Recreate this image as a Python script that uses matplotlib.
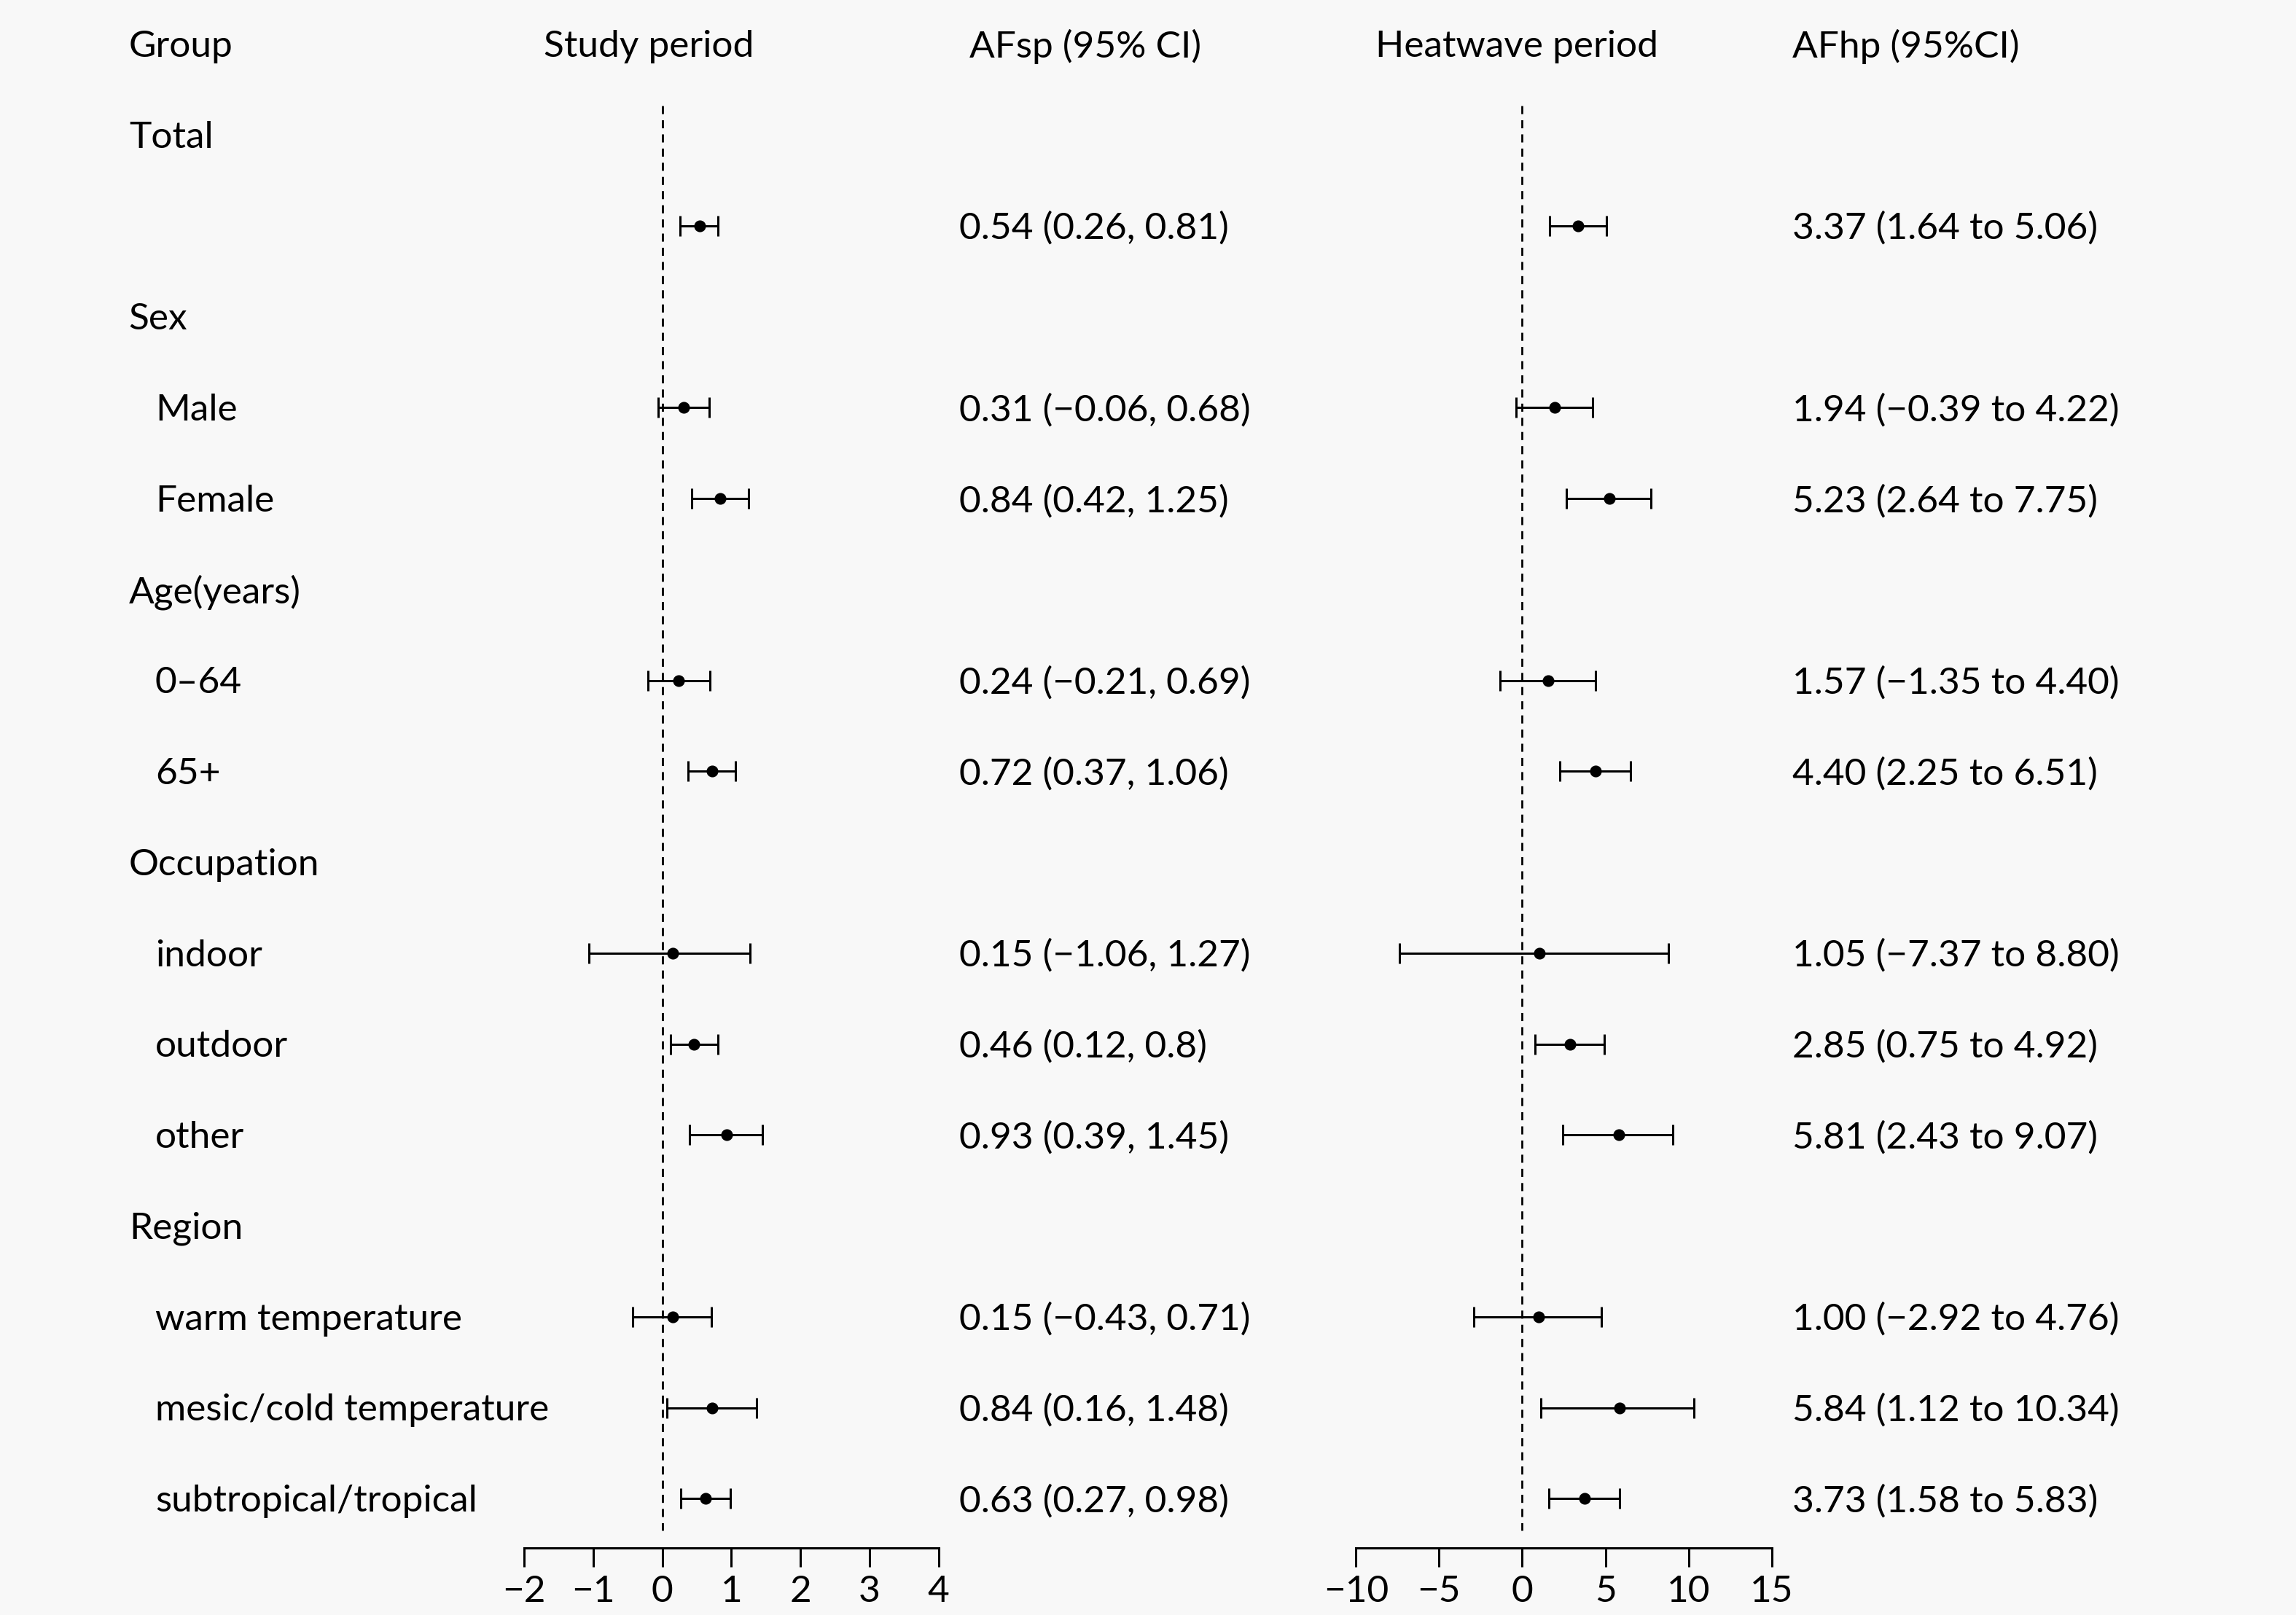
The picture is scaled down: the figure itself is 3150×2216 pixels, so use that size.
"""
Forest plot of attributable fractions
Study period (AFsp) and heatwave period (AFhp) by subgroup
"""

import matplotlib.pyplot as plt
import matplotlib.transforms as mtransforms

# Row layout: 0 = header row, then one row per line of the table
group_rows = [1, 3, 6, 9, 13]
group_names = ["Total", "Sex", "Age(years)", "Occupation", "Region"]

item_rows = [2, 4, 5, 7, 8, 10, 11, 12, 14, 15, 16]
item_names = ["", "Male", "Female", "0\u201364", "65+", "indoor", "outdoor", "other",
              "warm temperature", "mesic/cold temperature", "subtropical/tropical"]

# Study period estimates (as drawn in the plot)
sp_est = [0.54, 0.31, 0.84, 0.24, 0.72, 0.15, 0.46, 0.93, 0.15, 0.72, 0.63]
sp_low = [0.26, -0.06, 0.42, -0.21, 0.37, -1.06, 0.12, 0.39, -0.43, 0.07, 0.27]
sp_high = [0.81, 0.68, 1.25, 0.69, 1.06, 1.27, 0.8, 1.45, 0.71, 1.36, 0.98]
sp_text = ["0.54 (0.26, 0.81)", "0.31 (\u22120.06, 0.68)", "0.84 (0.42, 1.25)",
           "0.24 (\u22120.21, 0.69)", "0.72 (0.37, 1.06)", "0.15 (\u22121.06, 1.27)",
           "0.46 (0.12, 0.8)", "0.93 (0.39, 1.45)", "0.15 (\u22120.43, 0.71)",
           "0.84 (0.16, 1.48)", "0.63 (0.27, 0.98)"]

# Heatwave period estimates
hp_est = [3.37, 1.94, 5.23, 1.57, 4.40, 1.05, 2.85, 5.81, 1.00, 5.84, 3.73]
hp_low = [1.64, -0.39, 2.64, -1.35, 2.25, -7.37, 0.75, 2.43, -2.92, 1.12, 1.58]
hp_high = [5.06, 4.22, 7.75, 4.40, 6.51, 8.80, 4.92, 9.07, 4.76, 10.34, 5.83]
hp_text = ["3.37 (1.64 to 5.06)", "1.94 (\u22120.39 to 4.22)", "5.23 (2.64 to 7.75)",
           "1.57 (\u22121.35 to 4.40)", "4.40 (2.25 to 6.51)", "1.05 (\u22127.37 to 8.80)",
           "2.85 (0.75 to 4.92)", "5.81 (2.43 to 9.07)", "1.00 (\u22122.92 to 4.76)",
           "5.84 (1.12 to 10.34)", "3.73 (1.58 to 5.83)"]

sp_ticks = [-2, -1, 0, 1, 2, 3, 4]
hp_ticks = [-10, -5, 0, 5, 10, 15]

BG = "#f8f8f8"
FS = 18.5

plt.rcParams['font.family'] = ['Lato', 'DejaVu Sans']
plt.rcParams['font.size'] = FS

fig = plt.figure(figsize=(15.75, 11.08), dpi=200, facecolor=BG)

# axes span from the top of the figure down to the x axis line
bottom = 1 - 1057 / 1103
ax_sp = fig.add_axes([358 / 1568, bottom, (641 - 358) / 1568, 1 - bottom])
ax_hp = fig.add_axes([926 / 1568, bottom, (1210 - 926) / 1568, 1 - bottom])

ylim = ((1057 - 30) / 62.1, -30 / 62.1)


def draw_panel(ax, est, low, high, ticks):
    """Draw one forest panel with error bars and a dashed null line."""
    ax.set_facecolor("none")
    err = [[e - l for e, l in zip(est, low)], [h - e for e, h in zip(est, high)]]
    ax.errorbar(est, item_rows, xerr=err, fmt='o', color='black', ms=4.8,
                elinewidth=1.1, capsize=5, capthick=1.1)
    ax.vlines(0, 0.68, 16.35, colors='black', linestyles=(0, (4, 3)), linewidth=1)
    ax.set_xlim(ticks[0], ticks[-1])
    ax.set_ylim(*ylim)
    for side in ['top', 'left', 'right']:
        ax.spines[side].set_visible(False)
    ax.spines['bottom'].set_linewidth(1.1)
    ax.set_yticks([])
    ax.set_xticks(ticks)
    ax.tick_params(axis='x', length=9.5, width=1.1, labelsize=FS, pad=4)


draw_panel(ax_sp, sp_est, sp_low, sp_high, sp_ticks)
draw_panel(ax_hp, hp_est, hp_low, hp_high, hp_ticks)

# text columns: x in figure fraction, y in row units
trans = mtransforms.blended_transform_factory(fig.transFigure, ax_sp.transData)


def put(x_px, row, s, ha='left'):
    fig.text(x_px / 1568, row + 0.03, s, transform=trans, ha=ha, va='center',
             fontsize=FS)


# header row
put(88, 0, "Group")
put(443, 0, "Study period", ha='center')
put(662, 0, "AFsp (95% CI)")
put(1036, 0, "Heatwave period", ha='center')
put(1224, 0, "AFhp (95%CI)")

for r, name in zip(group_rows, group_names):
    put(88, r, name)

for r, name, t1, t2 in zip(item_rows, item_names, sp_text, hp_text):
    put(106, r, name)
    put(655, r, t1)
    put(1224, r, t2)

fig.savefig("out.png", dpi=200, facecolor=BG)
